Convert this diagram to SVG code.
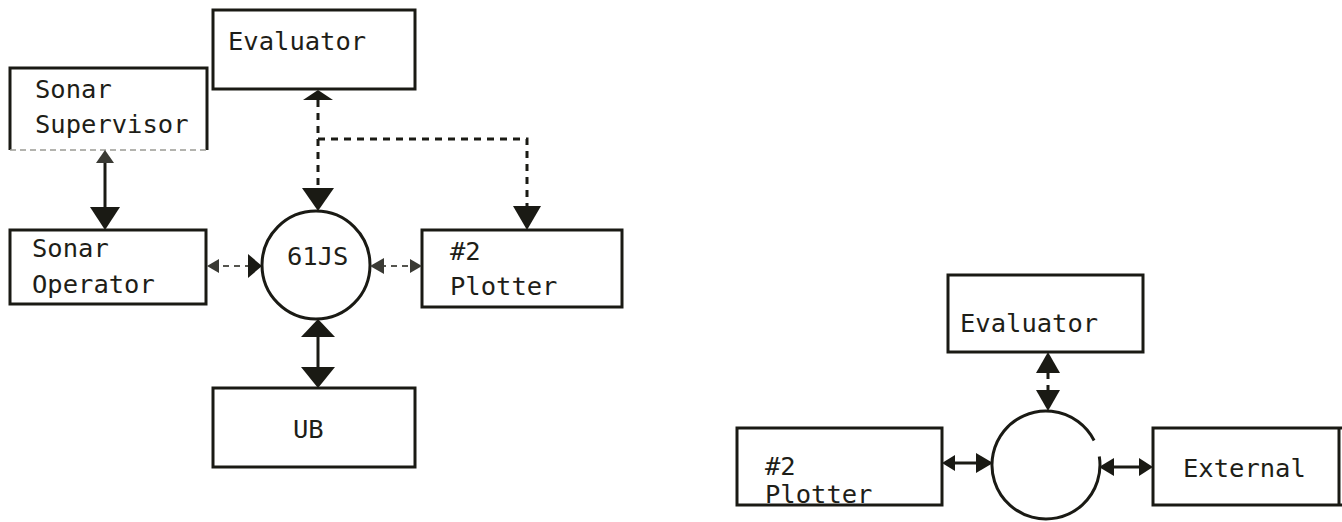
<svg xmlns="http://www.w3.org/2000/svg" width="1342" height="522" viewBox="0 0 1342 522">
<style>
.box{fill:none;stroke:#1a1a14;stroke-width:3}
.faint{fill:none;stroke:#9a9a94;stroke-width:1.5;stroke-dasharray:6 4}
.circ{fill:none;stroke:#1a1a14;stroke-width:3}
.solid{fill:none;stroke:#1a1a14;stroke-width:3}
.dash{fill:none;stroke:#1a1a14;stroke-width:3;stroke-dasharray:7 6}
.dashl{fill:none;stroke:#55554f;stroke-width:2;stroke-dasharray:6 5}
.ah{fill:#1a1a14;stroke:none}
.ahl{fill:#3a3a34;stroke:none}
text{font-family:"DejaVu Sans Mono","Liberation Mono",monospace;font-size:25.5px;fill:#1e1e18}
</style>
<rect width="1342" height="522" fill="#ffffff"/>

<g id="evaluator-left">
<rect class="box" x="213" y="10" width="202" height="79"/>
<text x="228" y="50">Evaluator</text>
</g>
<g id="sonar-supervisor">
<path class="box" d="M10 150 V68 H207 V150"/>
<line class="faint" x1="10" y1="150" x2="207" y2="150"/>
<text x="35" y="98">Sonar</text>
<text x="35" y="133">Supervisor</text>
</g>
<g id="sonar-operator">
<rect class="box" x="10" y="230" width="196" height="74"/>
<text x="32" y="257">Sonar</text>
<text x="32" y="293">Operator</text>
</g>
<g id="n61js">
<circle class="circ" cx="316" cy="265" r="54"/>
<text x="287" y="265">61JS</text>
</g>
<g id="plotter-left">
<rect class="box" x="422" y="230" width="200" height="77"/>
<text x="450" y="260">#2</text>
<text x="450" y="295">Plotter</text>
</g>
<g id="ub">
<rect class="box" x="213" y="388" width="202" height="79"/>
<text x="293" y="438">UB</text>
</g>

<g id="evaluator-right">
<rect class="box" x="948" y="275" width="195" height="77"/>
<text x="960" y="332">Evaluator</text>
</g>
<g id="plotter-right">
<rect class="box" x="737" y="428" width="205" height="77"/>
<text x="765" y="475">#2</text>
<text x="765" y="503">Plotter</text>
</g>
<g id="hub-right">
<path class="circ" d="M1099.3 456.5 A54 54 0 1 1 1094.1 440.5"/>
</g>
<g id="external">
<path class="box" d="M1342 428 H1153 V505 H1342"/>
<line class="box" x1="1339" y1="428" x2="1339" y2="505"/>
<text x="1183" y="477">External</text>
</g>

<g id="connectors">
<line class="solid" x1="105" y1="160" x2="105" y2="210"/>
<polygon class="ahl" points="105,150 96,163 114,163"/>
<polygon class="ah" points="105,230 90,207 120,207"/>
<line class="dashl" x1="212" y1="266" x2="250" y2="266"/>
<polygon class="ahl" points="207,266 219,259 219,273"/>
<polygon class="ah" points="262,266 248,254 248,278"/>
<line class="dashl" x1="380" y1="266" x2="412" y2="266"/>
<polygon class="ahl" points="370,266 384,258 384,274"/>
<polygon class="ahl" points="422,266 410,259 410,273"/>
<line class="dash" x1="318" y1="100" x2="318" y2="192"/>
<polygon class="ah" points="318,90 303,100 333,100"/>
<polygon class="ah" points="318,211 302,188 334,188"/>
<path class="dash" d="M318 139 H527 V208"/>
<polygon class="ah" points="527,230 513,206 541,206"/>
<line class="solid" x1="318" y1="335" x2="318" y2="370"/>
<polygon class="ah" points="318,319 301,337 335,337"/>
<polygon class="ah" points="318,388 301,367 335,367"/>
<line class="dash" x1="1048" y1="372" x2="1048" y2="392" stroke-dasharray="5 4"/>
<polygon class="ah" points="1048,352 1036,373 1060,373"/>
<polygon class="ah" points="1048,411 1036,390 1060,390"/>
<line class="solid" x1="952" y1="463" x2="980" y2="463"/>
<polygon class="ah" points="942,463 955,455 955,471"/>
<polygon class="ah" points="993,463 976,453 976,473"/>
<line class="solid" x1="1110" y1="467" x2="1142" y2="467"/>
<polygon class="ah" points="1099,467 1114,458 1114,476"/>
<polygon class="ah" points="1153,467 1139,458 1139,476"/>
</g>
</svg>
